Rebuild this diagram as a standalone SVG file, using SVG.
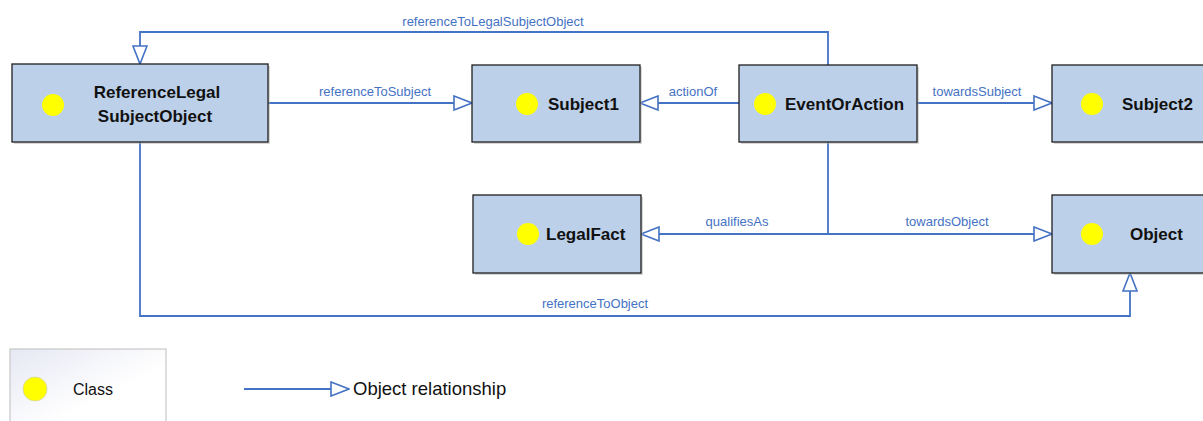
<svg xmlns="http://www.w3.org/2000/svg" width="1203" height="421" viewBox="0 0 1203 421">
  <defs>
    <marker id="open-arrow" viewBox="0 0 20 16" refX="19" refY="8" markerWidth="20" markerHeight="16" markerUnits="userSpaceOnUse" orient="auto">
      <path d="M1,1 L19,8 L1,15 Z" fill="#ffffff" stroke="#4472C4" stroke-width="1.6"/>
    </marker>
    <linearGradient id="legend-fill" x1="0" y1="0" x2="1" y2="1">
      <stop offset="0" stop-color="#E6E8F3"/>
      <stop offset="0.6" stop-color="#FFFFFF"/>
    </linearGradient>
  </defs>
  <style>
    .box { fill: #BCD0E9; stroke: #1f1f1f; stroke-width: 1.3; }
    .shadow { fill: #b0b0b0; opacity: 0.5; }
    .dot { fill: #FFFF00; }
    .name { font-family: "Liberation Sans", Arial, sans-serif; font-weight: bold; font-size: 17px; fill: #111111; }
    .edge { fill: none; stroke: #4472C4; stroke-width: 1.8; }
    .label { font-family: "Liberation Sans", Arial, sans-serif; font-size: 13px; fill: #4472C4; text-anchor: middle; }
    .legend { font-family: "Liberation Sans", Arial, sans-serif; fill: #111111; }
  </style>

  <rect width="1203" height="421" fill="#ffffff"/>

  <!-- connectors -->
  <g id="connectors">
    <path class="edge" d="M828,65 V32 H140 V64" marker-end="url(#open-arrow)"/>
    <text class="label" x="493" y="26">referenceToLegalSubjectObject</text>

    <path class="edge" d="M268,103 H472" marker-end="url(#open-arrow)"/>
    <text class="label" x="375" y="96">referenceToSubject</text>

    <path class="edge" d="M739,103 H640" marker-end="url(#open-arrow)"/>
    <text class="label" x="693" y="96">actionOf</text>

    <path class="edge" d="M917,103 H1052" marker-end="url(#open-arrow)"/>
    <text class="label" x="977" y="96">towardsSubject</text>

    <path class="edge" d="M828,142 V234"/>
    <path class="edge" d="M828,234 H641" marker-end="url(#open-arrow)"/>
    <text class="label" x="737" y="226">qualifiesAs</text>
    <path class="edge" d="M828,234 H1052" marker-end="url(#open-arrow)"/>
    <text class="label" x="947" y="226">towardsObject</text>

    <path class="edge" d="M140,142 V316 H1130 V273" marker-end="url(#open-arrow)"/>
    <text class="label" x="595" y="308">referenceToObject</text>
  </g>

  <!-- classes -->
  <g id="node-reference-legal-subject-object">
    <rect class="shadow" x="14" y="66" width="256" height="78"/>
    <rect class="box" x="12" y="64" width="256" height="78"/>
    <circle class="dot" cx="53" cy="105" r="11"/>
    <text class="name" x="157" y="98" text-anchor="middle">ReferenceLegal</text>
    <text class="name" x="155" y="122" text-anchor="middle">SubjectObject</text>
  </g>

  <g id="node-subject1">
    <rect class="shadow" x="474" y="67" width="168" height="77"/>
    <rect class="box" x="472" y="65" width="168" height="77"/>
    <circle class="dot" cx="527" cy="104" r="11"/>
    <text class="name" x="548" y="110">Subject1</text>
  </g>

  <g id="node-event-or-action">
    <rect class="shadow" x="741" y="67" width="178" height="77"/>
    <rect class="box" x="739" y="65" width="178" height="77"/>
    <circle class="dot" cx="765" cy="104" r="11"/>
    <text class="name" x="785" y="110">EventOrAction</text>
  </g>

  <g id="node-subject2">
    <rect class="shadow" x="1054" y="67" width="160" height="77"/>
    <rect class="box" x="1052" y="65" width="160" height="77"/>
    <circle class="dot" cx="1092" cy="104" r="11"/>
    <text class="name" x="1122" y="110">Subject2</text>
  </g>

  <g id="node-legal-fact">
    <rect class="shadow" x="475" y="197" width="168" height="78"/>
    <rect class="box" x="473" y="195" width="168" height="78"/>
    <circle class="dot" cx="528" cy="234" r="11"/>
    <text class="name" x="546" y="240">LegalFact</text>
  </g>

  <g id="node-object">
    <rect class="shadow" x="1054" y="197" width="160" height="78"/>
    <rect class="box" x="1052" y="195" width="160" height="78"/>
    <circle class="dot" cx="1092" cy="234" r="11"/>
    <text class="name" x="1130" y="240">Object</text>
  </g>

  <!-- legend -->
  <g id="legend">
    <rect x="10" y="349" width="156" height="80" fill="url(#legend-fill)" stroke="#bdbdbd" stroke-width="1"/>
    <circle cx="35" cy="389" r="12" fill="#FFFF00" stroke="#d6d6a0" stroke-width="0.8"/>
    <text class="legend" x="73" y="395" font-size="16">Class</text>
    <path class="edge" d="M244,389 H349" stroke-width="1.6" marker-end="url(#open-arrow)"/>
    <text class="legend" x="353" y="395" font-size="18.5">Object relationship</text>
  </g>
</svg>
